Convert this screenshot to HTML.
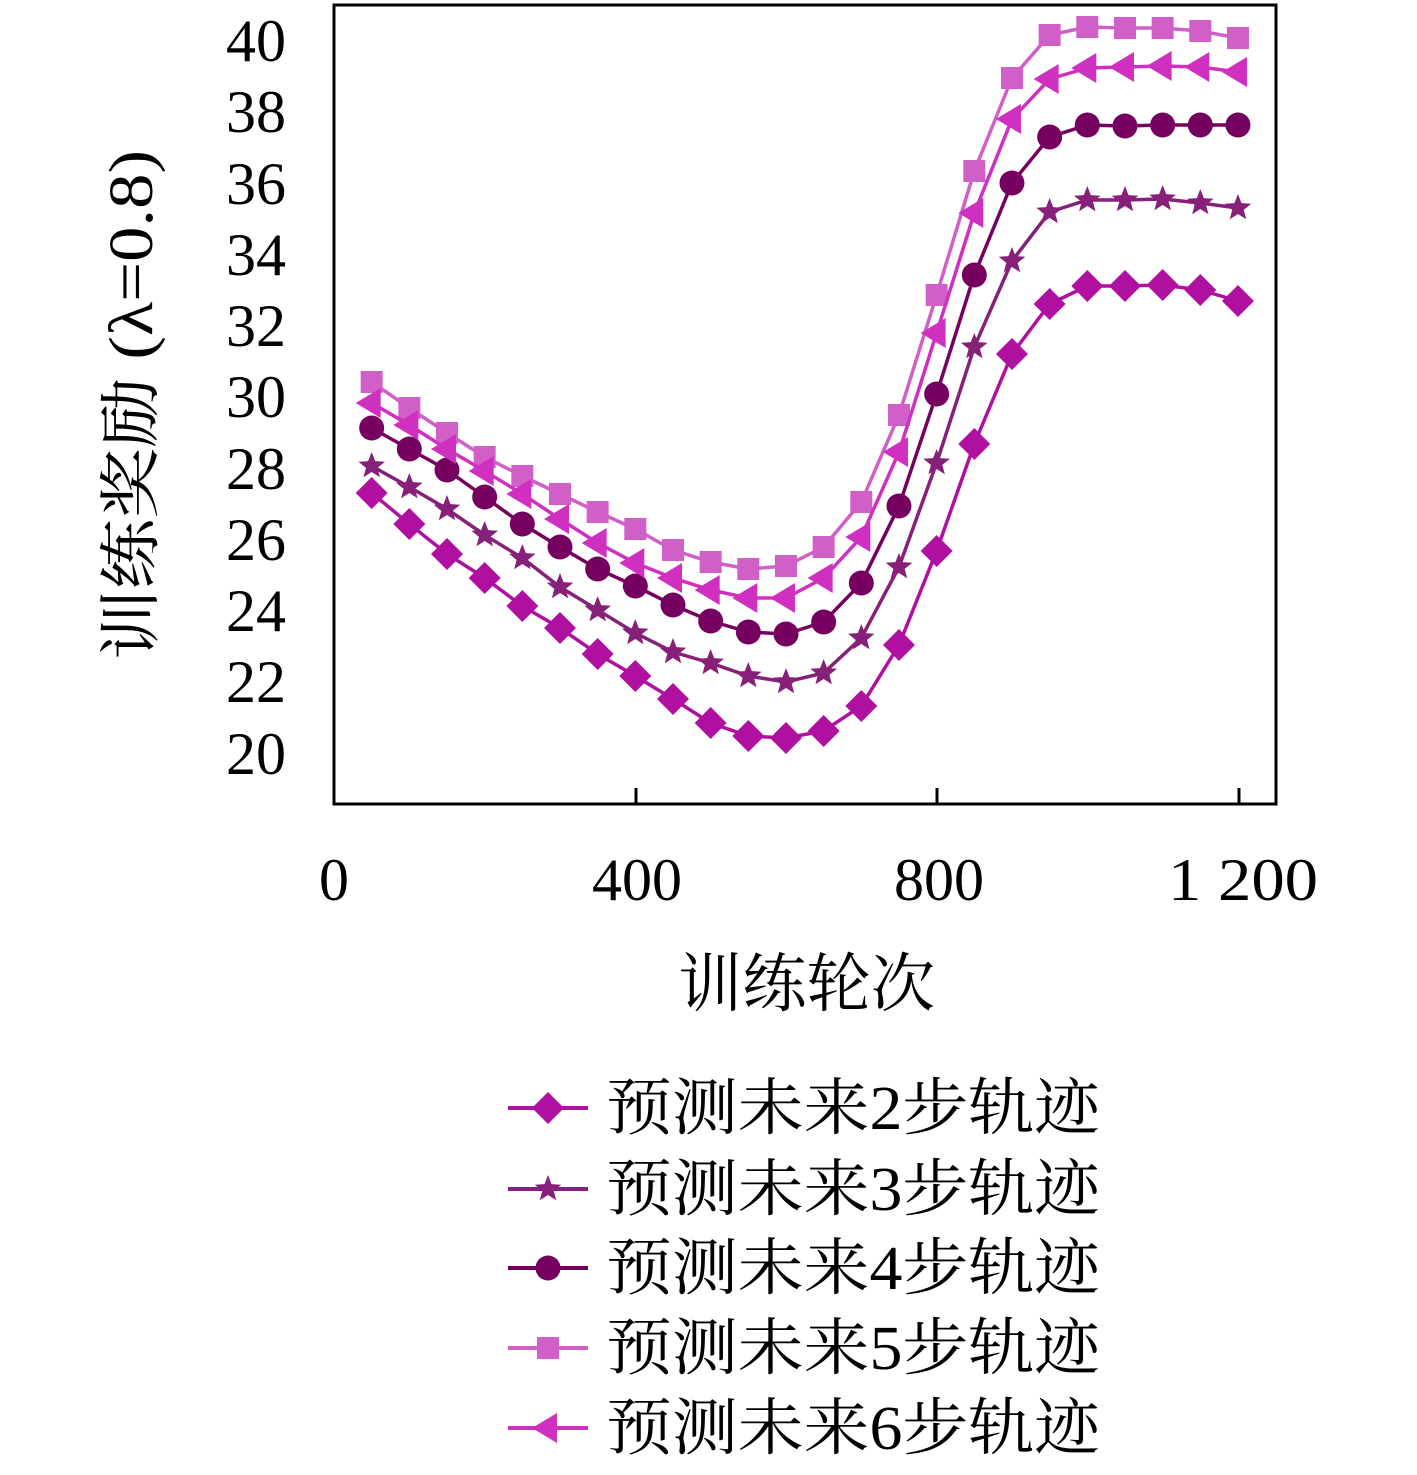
<!DOCTYPE html>
<html><head><meta charset="utf-8"><style>body{margin:0;background:#fff}svg{display:block}</style></head><body>
<svg id="s" width="1417" height="1475" xmlns="http://www.w3.org/2000/svg">
<rect x="334" y="5" width="942" height="799" fill="none" stroke="#000" stroke-width="3"/>
<g stroke="#000" stroke-width="3">
<line x1="636" y1="804" x2="636" y2="788"/><line x1="937" y1="804" x2="937" y2="788"/><line x1="1239" y1="804" x2="1239" y2="788"/>
</g>
<g font-family="'Liberation Serif','Noto Serif CJK SC',serif" font-size="60" text-anchor="end" fill="#000">
<text x="286" y="61">40</text><text x="286" y="132">38</text><text x="286" y="204">36</text><text x="286" y="275">34</text><text x="286" y="346">32</text><text x="286" y="417">30</text><text x="286" y="489">28</text><text x="286" y="560">26</text><text x="286" y="631">24</text><text x="286" y="702">22</text><text x="286" y="774">20</text>
</g>
<g font-family="'Liberation Serif','Noto Serif CJK SC',serif" font-size="60" text-anchor="middle" fill="#000">
<text x="334" y="900">0</text><text x="637" y="900">400</text><text x="939" y="900">800</text><text x="1243" y="900" textLength="150" lengthAdjust="spacingAndGlyphs">1 200</text>
</g>
<text x="678" y="1006" font-family="'Noto Serif CJK SC',serif" font-size="64" textLength="257" lengthAdjust="spacingAndGlyphs">训练轮次</text>
<text transform="translate(152,660) rotate(-90)" font-family="'Liberation Serif','Noto Serif CJK SC',serif" font-size="62" textLength="510" lengthAdjust="spacingAndGlyphs">训练奖励 (λ=0.8)</text>
<g font-family="'Liberation Serif','Noto Serif CJK SC',serif" font-size="62" fill="#000">
<text x="606" y="1129" textLength="494" lengthAdjust="spacingAndGlyphs">预测未来2步轨迹</text>
<text x="606" y="1210" textLength="494" lengthAdjust="spacingAndGlyphs">预测未来3步轨迹</text>
<text x="606" y="1289" textLength="494" lengthAdjust="spacingAndGlyphs">预测未来4步轨迹</text>
<text x="606" y="1369" textLength="494" lengthAdjust="spacingAndGlyphs">预测未来5步轨迹</text>
<text x="606" y="1449" textLength="494" lengthAdjust="spacingAndGlyphs">预测未来6步轨迹</text>
</g>
<g id="g"></g>
</svg>
<script>
var xs=[];for(var i=0;i<24;i++)xs.push(334+(50+50*i)*0.7533);
var S=[
["#b0109f","d",[493,524,554,578,606,628,654,676,699,723,736,738,731,706,645,551,444,354,304,286,286,285,290,301],1108],
["#862078","s",[466,487,509,535,558,587,610,633,652,663,676,682,673,638,567,463,347,261,212,200,200,199,203,208],1189],
["#750060","c",[428,449,470,497,524,547,569,586,605,621,632,634,622,583,506,394,275,183,137,125,126,125,125,125],1268],
["#d060c8","q",[382,408,433,457,476,494,512,529,550,562,569,566,547,502,415,295,171,78,35,27,28,28,31,38],1348],
["#d030c0","t",[403,425,449,471,494,519,543,563,578,590,598,598,578,537,452,333,213,119,79,68,67,66,67,72],1428]];
function mk(t,x,y,c){
 if(t=="d")return '<path d="M'+x+' '+(y-16)+'L'+(x+16)+' '+y+'L'+x+' '+(y+16)+'L'+(x-16)+' '+y+'Z" fill="'+c+'"/>';
 if(t=="c")return '<circle cx="'+x+'" cy="'+y+'" r="12.5" fill="'+c+'"/>';
 if(t=="q")return '<rect x="'+(x-11)+'" y="'+(y-11)+'" width="22" height="22" fill="'+c+'"/>';
 if(t=="t")return '<path d="M'+(x-16)+' '+y+'L'+(x+9)+' '+(y-15)+'L'+(x+9)+' '+(y+15)+'Z" fill="'+c+'"/>';
 var p='';for(var k=0;k<10;k++){var r=k%2?6:14,a=-Math.PI/2+k*Math.PI/5;p+=(k?'L':'M')+(x+r*Math.cos(a)).toFixed(1)+' '+(y+r*Math.sin(a)).toFixed(1);}
 return '<path d="'+p+'Z" fill="'+c+'"/>';}
var h='';
S.forEach(function(s){var c=s[0],pts=s[2].map(function(y,i){return xs[i].toFixed(1)+','+y;}).join(' ');
 h+='<polyline points="'+pts+'" fill="none" stroke="'+c+'" stroke-width="3.5"/>';
 s[2].forEach(function(y,i){h+=mk(s[1],xs[i],y,c);});
 h+='<line x1="508" y1="'+s[3]+'" x2="588" y2="'+s[3]+'" stroke="'+c+'" stroke-width="4"/>'+mk(s[1],548,s[3],c);});
document.getElementById('g').innerHTML=h;
</script>
</body></html>
